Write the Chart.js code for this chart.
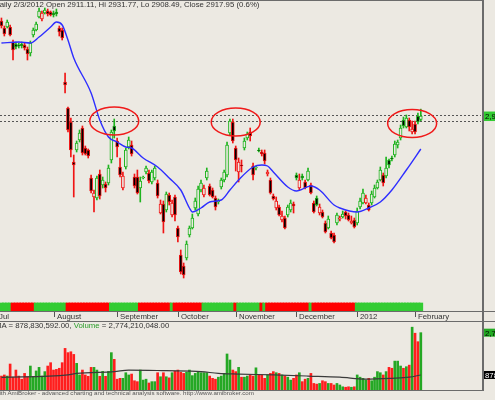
<!DOCTYPE html>
<html>
<head>
<meta charset="utf-8">
<script src="https://cdn.jsdelivr.net/npm/chart.js@4.4.1/dist/chart.umd.min.js"></script>
<style>
  html, body { margin: 0; padding: 0; }
  body { width: 495px; height: 400px; overflow: hidden; position: relative; background: #ECE9E2;
         font-family: "Liberation Sans", Arial, sans-serif; }
  canvas { position: absolute; left: 0; }
  #price { top: 0; }
  #vol { top: 321px; }
  .txt { position: absolute; white-space: nowrap; color: #333; }
  #title { left: -6px; top: 0; font-size: 7.8px; line-height: 10px; }
  #vlegend { left: -5px; top: 320.5px; font-size: 7.8px; line-height: 10px; }
  #footer { left: -5px; top: 388.5px; font-size: 6.2px; line-height: 8px; color: #555; }
  .rule { position: absolute; background: #6B6B6B; }
</style>
</head>
<body>
<canvas id="price" width="495" height="322"></canvas>
<canvas id="vol" width="495" height="70"></canvas>

<div class="rule" style="left:0;top:0;width:483px;height:1px"></div>
<div class="rule" style="left:0;top:311px;width:495px;height:1px"></div>
<div class="rule" style="left:0;top:321px;width:495px;height:1px"></div>
<div class="rule" style="left:0;top:390px;width:483px;height:1px"></div>
<div class="rule" style="left:482px;top:0;width:2px;height:391px"></div>

<div id="title" class="txt">Daily 2/3/2012 Open 2911.11, Hi 2931.77, Lo 2908.49, Close 2917.95 (0.6%)</div>
<div id="vlegend" class="txt">MA = 878,830,592.00, <span style="color:#2A9E2A">Volume</span> = 2,774,210,048.00</div>
<div id="footer" class="txt">with AmiBroker - advanced charting and technical analysis software. http://www.amibroker.com</div>

<script>
// trading days shown, per month
var julDays = [6,7,8,11,12,13,14,15,18,19,20,21,22,25,26,27,28,29];
var augDays = [1,2,3,4,5,8,9,10,11,12,15,16,17,18,19,22,23,24,25,26,30,31];
var sepDays = [1,2,6,7,8,9,12,13,14,15,16,19,20,21,22,23,26,27,28,29,30];
var octDays = [3,4,5,6,7,10,11,12,13,14,17,18,19,20,21,24,25,26,27,28];
var novDays = [1,2,3,4,7,8,9,10,11,14,15,16,17,18,21,22,23,25,28,29,30];
var decDays = [1,2,5,6,7,8,9,12,13,14,15,16,19,20,21,22,23,27,28,29,30];
var janDays = [3,4,5,6,9,10,11,12,13,17,18,19,20,23,24,25,26,27,30,31];
var febDays = [1,2,3];

// month axis (bar index where each month starts; July 1 is 2 bars left of the view)
var monthNames = ['Jul','August','September','October','November','December','2012','February'];
var monthTickBars = [-2, 18, 40, 61, 81, 102, 123, 143];

var open = [3108,3094,3096,3096,3066,3062,3060,3062,3060,3052,
  3044,3080,3090,3116,3112,3124,3128,3126,3124,3126,
  3094,3090,2986,2934,2906,2826,2850,2870,2894,2854,
  2850,2794,2756,2754,2802,2780,2782,2784,2830,2898,
  2868,2816,2774,2816,2856,2860,2796,2796,2774,2794,
  2806,2804,2786,2794,2784,2724,2742,2730,2760,2720,
  2756,2694,2640,2618,2634,2680,2694,2734,2722,2770,
  2760,2794,2778,2770,2754,2746,2776,2790,2800,2884,
  2906,2854,2806,2820,2854,2874,2886,2818,2814,2850,
  2846,2844,2802,2790,2758,2734,2736,2710,2714,2720,
  2730,2742,2800,2774,2798,2786,2790,2780,2744,2754,
  2724,2726,2704,2694,2684,2680,2704,2712,2716,2726,
  2720,2704,2710,2704,2736,2744,2744,2740,2744,2756,
  2774,2790,2800,2798,2830,2834,2840,2860,2874,2910,
  2896,2910,2886,2902,2918,2911.11];
var high = [3114,3098,3110,3100,3070,3066,3064,3066,3064,3056,
  3068,3094,3106,3134,3128,3134,3132,3128,3128,3132,
  3098,3094,3004,2936,2914,2840,2868,2890,2898,2858,
  2852,2800,2770,2798,2810,2796,2786,2820,2890,2912,
  2874,2834,2806,2854,2876,2868,2802,2810,2796,2798,
  2818,2810,2810,2818,2790,2750,2748,2766,2764,2750,
  2760,2698,2650,2624,2668,2698,2722,2754,2778,2790,
  2780,2814,2782,2774,2758,2752,2794,2810,2866,2912,
  2912,2858,2834,2830,2874,2886,2894,2824,2818,2854,
  2850,2850,2810,2794,2762,2756,2740,2728,2718,2740,
  2750,2746,2804,2802,2802,2790,2814,2784,2748,2758,
  2742,2730,2708,2718,2688,2684,2724,2718,2728,2728,
  2724,2718,2714,2734,2754,2772,2760,2744,2768,2780,
  2790,2816,2804,2836,2832,2838,2868,2870,2900,2916,
  2920,2914,2908,2908,2924,2931.77];
var low = [3094,3078,3094,3078,3030,3052,3054,3054,3050,3030,
  3038,3076,3088,3114,3108,3122,3118,3118,3116,3118,
  3078,3070,2964,2886,2836,2756,2846,2866,2840,2840,
  2834,2764,2726,2750,2752,2774,2766,2780,2824,2874,
  2836,2796,2770,2812,2852,2838,2774,2762,2746,2792,
  2802,2784,2782,2790,2754,2722,2684,2726,2740,2716,
  2708,2666,2602,2594,2630,2676,2692,2730,2718,2766,
  2756,2790,2758,2754,2730,2742,2772,2786,2796,2880,
  2864,2808,2786,2806,2850,2870,2868,2790,2810,2846,
  2838,2822,2798,2762,2750,2730,2718,2706,2692,2716,
  2726,2724,2790,2770,2790,2772,2788,2762,2724,2738,
  2720,2714,2684,2692,2672,2664,2700,2708,2714,2712,
  2708,2702,2694,2700,2732,2742,2742,2728,2740,2754,
  2772,2788,2778,2794,2814,2828,2836,2854,2870,2894,
  2894,2888,2882,2882,2902,2908.49];
var close = [3098,3082,3106,3080,3050,3056,3058,3058,3054,3042,
  3064,3090,3102,3128,3124,3130,3122,3120,3120,3122,
  3086,3074,2980,2890,2850,2820,2864,2884,2844,2842,
  2838,2768,2764,2794,2758,2790,2774,2814,2886,2888,
  2856,2800,2798,2850,2870,2842,2778,2764,2788,2796,
  2814,2788,2806,2814,2758,2742,2706,2762,2746,2744,
  2720,2676,2606,2600,2662,2694,2714,2748,2772,2784,
  2774,2808,2760,2756,2736,2748,2790,2806,2860,2908,
  2868,2830,2826,2818,2868,2882,2878,2800,2816,2848,
  2842,2828,2806,2764,2752,2748,2720,2718,2694,2736,
  2744,2738,2794,2790,2794,2774,2808,2764,2726,2740,
  2736,2716,2686,2712,2674,2666,2720,2714,2722,2718,
  2710,2708,2696,2728,2748,2764,2754,2730,2762,2774,
  2786,2810,2784,2814,2820,2832,2862,2866,2894,2898,
  2914,2896,2892,2886,2906,2917.95];

// moving average
var maBars = [0,6,10,13,17,19,21,23,25,31,34,37,40,43,45,49,54,58,62,65,
  66,69,72,76,79,82,87,90,92,94,99,102,107,110,115,117,123,127,131,135,140,145];
var maValues = [3064,3066,3064,3076,3096,3106,3100,3070,3034,2964,2910,2876,2866,2856,2854,2834,2816,2794,2770,2734,
  2726,2734,2746,2750,2770,2790,2816,2820,2818,2806,2776,2768,2778,2770,2740,2734,2726,2734,2746,2770,2810,2852];

// trend ribbon: 1 = green, 0 = red
var trend = [1,1,1,1,0,0,0,0,0,0, 0,0,1,1,1,1,1,1,1,1, 1,1,1,0,0,0,0,0,0,0,
  0,0,0,0,0,0,0,0,1,1, 1,1,1,1,1,1,1,1,0,0, 0,0,0,0,0,0,0,0,0,1,
  0,0,0,0,0,0,0,0,0,0, 1,1,1,1,1,1,1,1,1,1, 1,0,1,1,1,1,1,1,1,1,
  0,1,0,0,0,0,0,0,0,0, 0,0,0,0,0,0,0,1,0,0, 0,0,0,0,0,0,0,0,0,0,
  0,0,0,1,1,1,1,1,1,1, 1,1,1,1,1,1,1,1,1,1, 1,1,1,1,1,1];

// volume, millions of shares
var volume = [830,880,830,1370,780,1100,830,690,950,800,
  1280,800,1060,1220,830,1030,1280,1430,1100,1130,
  1180,1430,2070,1880,1920,1800,1400,880,1100,880,
  820,1220,1220,1100,820,1040,820,1040,1880,1580,
  690,730,730,980,880,920,620,580,1100,650,
  690,520,580,580,980,800,980,800,750,980,
  1050,1100,1000,950,1000,1100,850,950,1030,980,
  980,980,830,730,690,780,830,950,1820,1550,
  1100,1030,1220,780,780,830,880,830,1200,880,
  880,730,880,950,1030,980,950,880,830,780,
  650,730,880,980,580,690,730,950,500,470,
  500,620,580,500,500,430,500,430,350,330,
  350,330,350,880,780,730,650,730,620,780,
  1030,980,880,1030,1220,1180,1500,1500,1280,1180,
  1250,1320,3020,2750,2370,2774.21];
var volMaBars = [0,23,26,39,44,57,69,75,82,94,106,117,126,135,141,145];
var volMaValues = [770,880,950,1030,1100,1070,1030,950,920,880,830,780,690,730,780,878.83];

// dotted resistance levels and the circled tops
var levels = [2921, 2908];
var ellipseBars = [39, 81, 142];
var ellipseLevels = [2908, 2906, 2903];

var BG = '#ECE9E2';
var UP = '#1FB41F', DOWN = '#F01414';
var FONT = '7.8px "Liberation Sans", Arial, sans-serif';

function pad(n) { return (n < 10 ? '0' : '') + n; }
var dates = [];
[[2011, 7, julDays], [2011, 8, augDays], [2011, 9, sepDays], [2011, 10, octDays],
 [2011, 11, novDays], [2011, 12, decDays], [2012, 1, janDays], [2012, 2, febDays]].forEach(function (m) {
  m[2].forEach(function (d) { dates.push(m[0] + '-' + pad(m[1]) + '-' + pad(d)); });
});
// empty space AmiBroker leaves right of the last bar
var blankBars = 21;
var labels = dates.concat(new Array(blankBars).fill(''));

var candleColor = close.map(function (c, i) { return c >= (i ? close[i - 1] : open[0]) ? UP : DOWN; });
var bodyFill = close.map(function (c, i) { return c < open[i] ? '#000000' : BG; });

Chart.defaults.font.family = '"Liberation Sans", Arial, sans-serif';

var priceExtras = {
  id: 'priceExtras',
  beforeDatasetsDraw: function (chart) {
    var ctx = chart.ctx, a = chart.chartArea, y = chart.scales.y;
    ctx.save();
    ctx.strokeStyle = '#555';
    ctx.lineWidth = 1;
    ctx.setLineDash([2, 2]);
    levels.forEach(function (v) {
      var py = Math.round(y.getPixelForValue(v)) + 0.5;
      ctx.beginPath(); ctx.moveTo(a.left, py); ctx.lineTo(a.right - 2, py); ctx.stroke();
    });
    ctx.restore();
  },
  afterDatasetsDraw: function (chart) {
    var ctx = chart.ctx, x = chart.scales.x, y = chart.scales.y;
    ctx.save();
    ctx.strokeStyle = '#F01A1A';
    ctx.lineWidth = 1.5;
    ellipseBars.forEach(function (b, k) {
      ctx.beginPath();
      ctx.ellipse(x.getPixelForValue(b), y.getPixelForValue(ellipseLevels[k]), 24.5, 14, 0, 0, Math.PI * 2);
      ctx.stroke();
    });
    ctx.restore();
  },
  afterDraw: function (chart) {
    var ctx = chart.ctx, x = chart.scales.x, y = chart.scales.y, a = chart.chartArea;
    ctx.save();
    // month axis under the ribbon
    ctx.font = FONT;
    ctx.fillStyle = '#333';
    ctx.strokeStyle = '#555';
    ctx.lineWidth = 1;
    monthTickBars.forEach(function (b, k) {
      var px = Math.round(x.getPixelForValue(b)) + 0.5;
      ctx.beginPath(); ctx.moveTo(px, a.bottom); ctx.lineTo(px, a.bottom + 6); ctx.stroke();
      ctx.fillText(monthNames[k], px + 2.5, a.bottom + 8);
    });
    // last close marker on the value axis
    var last = close[close.length - 1];
    var py = y.getPixelForValue(last);
    ctx.fillStyle = '#33CC33';
    ctx.fillRect(a.right + 1, py - 4.5, 12, 9.5);
    ctx.fillStyle = '#000';
    ctx.fillText(last.toLocaleString('en-US', { minimumFractionDigits: 2 }), a.right + 2, py + 3);
    ctx.restore();
  }
};

new Chart(document.getElementById('price'), {
  type: 'bar',
  data: {
    labels: labels,
    datasets: [
      {
        type: 'line', order: 0,
        data: maBars.map(function (b, k) { return { x: dates[b], y: maValues[k] }; }),
        borderColor: '#2E2EFF', borderWidth: 1.4, pointRadius: 0,
        cubicInterpolationMode: 'monotone'
      },
      {
        order: 1, grouped: false,
        data: open.map(function (o, i) { return [o, close[i]]; }),
        backgroundColor: bodyFill, borderColor: candleColor, borderWidth: 1,
        borderSkipped: false, barThickness: 3, minBarLength: 1
      },
      {
        order: 2, grouped: false,
        data: low.map(function (l, i) { return [l, high[i]]; }),
        backgroundColor: candleColor, borderWidth: 0, barThickness: 1
      },
      {
        order: 3, grouped: false, yAxisID: 'yr',
        data: trend.map(function () { return [0, 1]; }),
        backgroundColor: trend.map(function (t) { return t ? '#33CC33' : '#FF0000'; }),
        borderWidth: 0, barThickness: 4
      }
    ]
  },
  options: {
    responsive: false, animation: false, devicePixelRatio: 1, events: [],
    layout: { padding: { left: 0, top: 0, right: 12, bottom: 11 } },
    plugins: { legend: { display: false }, tooltip: { enabled: false } },
    scales: {
      x: { display: false, offset: true },
      y: { display: false, min: 2528, max: 3150 },
      yr: { display: false, min: 0, max: 38.875 }
    }
  },
  plugins: [priceExtras]
});

var volExtras = {
  id: 'volExtras',
  afterDraw: function (chart) {
    var ctx = chart.ctx, y = chart.scales.y, a = chart.chartArea;
    ctx.save();
    ctx.font = FONT;
    var v = volume[volume.length - 1], m = volMaValues[volMaValues.length - 1];
    var pv = y.getPixelForValue(v), pm = y.getPixelForValue(m);
    ctx.fillStyle = '#22AA22';
    ctx.fillRect(a.right + 1, pv - 4, 12, 8);
    ctx.fillStyle = '#000';
    ctx.fillText(Math.round(v * 1e6).toLocaleString('en-US'), a.right + 2, pv + 3);
    ctx.fillStyle = '#000';
    ctx.fillRect(a.right + 1, pm - 4, 12, 8);
    ctx.fillStyle = '#FFF';
    ctx.fillText(Math.round(m * 1e6).toLocaleString('en-US'), a.right + 2, pm + 3);
    ctx.restore();
  }
};

new Chart(document.getElementById('vol'), {
  type: 'bar',
  data: {
    labels: labels,
    datasets: [
      {
        type: 'line', order: 0,
        data: volMaBars.map(function (b, k) { return { x: dates[b], y: volMaValues[k] }; }),
        borderColor: '#3A3A3A', borderWidth: 1.2, pointRadius: 0,
        cubicInterpolationMode: 'monotone'
      },
      {
        order: 1,
        data: volume,
        backgroundColor: close.map(function (c, i) { return c > open[i] ? '#24A824' : '#FF1E1E'; }),
        borderWidth: 0, barThickness: 2
      }
    ]
  },
  options: {
    responsive: false, animation: false, devicePixelRatio: 1, events: [],
    layout: { padding: { left: 0, top: 0, right: 12, bottom: 1 } },
    plugins: { legend: { display: false }, tooltip: { enabled: false } },
    scales: {
      x: { display: false, offset: true },
      y: { display: false, min: 206, max: 3297 }
    }
  },
  plugins: [volExtras]
});
</script>
</body>
</html>
